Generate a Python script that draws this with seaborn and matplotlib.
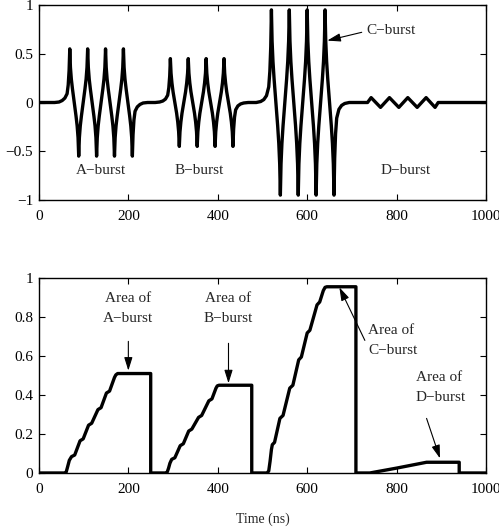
import matplotlib
matplotlib.use("Agg")
import numpy as np
import pandas as pd
import matplotlib.pyplot as plt
import seaborn as sns

# ---- top panel: received signal ----
burst_a_t = [0, 35, 45, 52, 58, 63, 65.5, 67.5, 69,
             70.5, 72.5, 75, 79, 83, 85.5, 87.5, 89,
             90.5, 92.5, 95, 99, 103, 105.5, 107.5, 109,
             110.5, 112.5, 115, 119, 123, 125.5, 127.5, 129,
             130.5, 132.5, 135, 139, 143, 145.5, 147.5, 149,
             150.5, 152.5, 155, 159, 163, 165.5, 167.5, 169,
             170.5, 172.5, 175, 179, 183, 185.5, 187.5, 189,
             190.5, 192.5, 195, 199, 203, 205.5, 207.5, 209,
             210.5, 212.5, 215, 220, 226, 233, 243]
burst_a_v = [0, 0, 0.005, 0.02, 0.045, 0.09, 0.18, 0.33, 0.55,
             0.36, 0.24, 0.14, 0, -0.14, -0.24, -0.36, -0.55,
             -0.36, -0.24, -0.14, 0, 0.14, 0.24, 0.36, 0.55,
             0.36, 0.24, 0.14, 0, -0.14, -0.24, -0.36, -0.55,
             -0.36, -0.24, -0.14, 0, 0.14, 0.24, 0.36, 0.55,
             0.36, 0.24, 0.14, 0, -0.14, -0.24, -0.36, -0.55,
             -0.36, -0.24, -0.14, 0, 0.14, 0.24, 0.36, 0.55,
             0.36, 0.24, 0.14, 0, -0.14, -0.24, -0.36, -0.55,
             -0.33, -0.18, -0.09, -0.045, -0.02, -0.005, 0]

burst_b_t = [243, 260, 270, 277, 283, 288, 290.5, 292.5, 294,
             295.5, 297.5, 300, 304, 308, 310.5, 312.5, 314,
             315.5, 317.5, 320, 324, 328, 330.5, 332.5, 334,
             335.5, 337.5, 340, 344, 348, 350.5, 352.5, 354,
             355.5, 357.5, 360, 364, 368, 370.5, 372.5, 374,
             375.5, 377.5, 380, 384, 388, 390.5, 392.5, 394,
             395.5, 397.5, 400, 404, 408, 410.5, 412.5, 414,
             415.5, 417.5, 420, 424, 428, 430.5, 432.5, 434,
             435.5, 437.5, 440, 445, 451, 458, 468]
burst_b_v = [0, 0, 0.005, 0.015, 0.035, 0.075, 0.15, 0.27, 0.45,
             0.30, 0.20, 0.11, 0, -0.11, -0.20, -0.30, -0.45,
             -0.30, -0.20, -0.11, 0, 0.11, 0.20, 0.30, 0.45,
             0.30, 0.20, 0.11, 0, -0.11, -0.20, -0.30, -0.45,
             -0.30, -0.20, -0.11, 0, 0.11, 0.20, 0.30, 0.45,
             0.30, 0.20, 0.11, 0, -0.11, -0.20, -0.30, -0.45,
             -0.30, -0.20, -0.11, 0, 0.11, 0.20, 0.30, 0.45,
             0.30, 0.20, 0.11, 0, -0.11, -0.20, -0.30, -0.45,
             -0.27, -0.15, -0.075, -0.035, -0.015, -0.005, 0]

burst_c_t = [468, 486, 496, 503, 509, 514, 516.5, 518.5, 520,
             521.5, 523.5, 526, 530, 534, 536.5, 538.5, 540,
             541.5, 543.5, 546, 550, 554, 556.5, 558.5, 560,
             561.5, 563.5, 566, 570, 574, 576.5, 578.5, 580,
             581.5, 583.5, 586, 590, 594, 596.5, 598.5, 600,
             601.5, 603.5, 606, 610, 614, 616.5, 618.5, 620,
             621.5, 623.5, 626, 630, 634, 636.5, 638.5, 640,
             641.5, 643.5, 646, 650, 654, 656.5, 658.5, 660,
             661.5, 663.5, 666, 671, 677, 684, 694]
burst_c_v = [0, 0, 0.01, 0.03, 0.07, 0.16, 0.32, 0.57, 0.95,
             0.63, 0.42, 0.24, 0, -0.24, -0.42, -0.63, -0.95,
             -0.63, -0.42, -0.24, 0, 0.24, 0.42, 0.63, 0.95,
             0.63, 0.42, 0.24, 0, -0.24, -0.42, -0.63, -0.95,
             -0.63, -0.42, -0.24, 0, 0.24, 0.42, 0.63, 0.95,
             0.63, 0.42, 0.24, 0, -0.24, -0.42, -0.63, -0.95,
             -0.63, -0.42, -0.24, 0, 0.24, 0.42, 0.63, 0.95,
             0.63, 0.42, 0.24, 0, -0.24, -0.42, -0.63, -0.95,
             -0.57, -0.32, -0.16, -0.07, -0.03, -0.01, 0]

burst_d_t = [694, 735, 743, 764, 784, 805, 825, 846, 866, 886, 893, 1000]
burst_d_v = [0, 0, 0.05, -0.05, 0.05, -0.05, 0.05, -0.05, 0.05, -0.05, 0, 0]

# ---- bottom panel: running area of each burst ----
area_a_t = [0, 57, 61, 64, 68, 73, 80, 92, 99, 111, 118, 132, 139, 151, 158,
            169, 172, 176, 250, 250]
area_a_v = [0, 0, 0.005, 0.03, 0.065, 0.084, 0.092, 0.165, 0.175, 0.245, 0.255,
            0.325, 0.335, 0.41, 0.42, 0.49, 0.503, 0.51, 0.51, 0]

area_b_t = [250, 283, 287, 290, 293, 297, 304, 316, 323, 335, 342, 357, 364,
            380, 387, 396, 399, 403, 476, 476]
area_b_v = [0, 0, 0.005, 0.025, 0.05, 0.07, 0.078, 0.14, 0.15, 0.215, 0.225,
            0.285, 0.295, 0.37, 0.38, 0.435, 0.447, 0.45, 0.45, 0]

area_c_t = [476, 510, 514, 517, 520, 522, 527, 539, 546, 561, 568, 581, 587,
            600, 606, 622, 628, 636, 640, 644, 709, 709]
area_c_v = [0, 0, 0.01, 0.06, 0.12, 0.145, 0.157, 0.28, 0.295, 0.435, 0.45,
            0.58, 0.595, 0.718, 0.732, 0.862, 0.877, 0.935, 0.952, 0.955, 0.955, 0]

area_d_t = [709, 740, 800, 867, 940, 940, 1000]
area_d_v = [0, 0, 0.025, 0.055, 0.055, 0, 0]

sig = pd.DataFrame({
    "t": burst_a_t + burst_b_t + burst_c_t + burst_d_t,
    "v": burst_a_v + burst_b_v + burst_c_v + burst_d_v,
})
area = pd.DataFrame({
    "t": area_a_t + area_b_t + area_c_t + area_d_t,
    "v": area_a_v + area_b_v + area_c_v + area_d_v,
})

sns.set_theme(style="ticks")
plt.rcParams['font.family'] = ['Liberation Serif', 'DejaVu Serif']
plt.rcParams['axes.unicode_minus'] = True

fig = plt.figure(figsize=(4.99, 5.27), dpi=100)
ax1 = fig.add_axes([0.078, 0.6205, 0.896, 0.370])
ax2 = fig.add_axes([0.078, 0.1025, 0.896, 0.370])

sns.lineplot(data=sig, x="t", y="v", sort=False, estimator=None,
             color="black", linewidth=2.4, ax=ax1)
sns.lineplot(data=area, x="t", y="v", sort=False, estimator=None,
             color="black", linewidth=2.4, ax=ax2)

arrow = dict(arrowstyle="-|>,head_length=0.8,head_width=0.25",
             color="black", lw=0.8, shrinkA=0, shrinkB=0, mutation_scale=10)
fs = 11

# top panel
ax1.set_xlim(0, 1000)
ax1.set_ylim(-1, 1)
ax1.set_yticks([-1, -0.5, 0, 0.5, 1])
ax1.set_yticklabels(["\u22121", "\u22120.5", "0", "0.5", "1"])
ax1.text(139, -0.70, "A\u2212burst", ha="center", va="center", fontsize=fs)
ax1.text(358, -0.70, "B\u2212burst", ha="center", va="center", fontsize=fs)
ax1.text(821, -0.70, "D\u2212burst", ha="center", va="center", fontsize=fs)
ax1.text(733, 0.735, "C\u2212burst", ha="left", va="center", fontsize=fs)
ax1.annotate("", xy=(645, 0.635), xytext=(722, 0.72), arrowprops=arrow)

# bottom panel
ax2.set_xlim(0, 1000)
ax2.set_ylim(0, 1)
ax2.set_yticks([0, 0.2, 0.4, 0.6, 0.8, 1])
ax2.set_yticklabels(["0", "0.2", "0.4", "0.6", "0.8", "1"])
ls = 1.7
ax2.text(200, 0.843, "Area of\nA\u2212burst", ha="center", va="center",
         fontsize=fs, linespacing=ls)
ax2.annotate("", xy=(200, 0.525), xytext=(200, 0.675), arrowprops=arrow)
ax2.text(424, 0.843, "Area of\nB\u2212burst", ha="center", va="center",
         fontsize=fs, linespacing=ls)
ax2.annotate("", xy=(424, 0.46), xytext=(424, 0.665), arrowprops=arrow)
ax2.text(737, 0.678, "Area of\nC\u2212burst", ha="left", va="center",
         fontsize=fs, linespacing=ls)
ax2.annotate("", xy=(672, 0.952), xytext=(729, 0.68), arrowprops=arrow)
ax2.text(843, 0.436, "Area of\nD\u2212burst", ha="left", va="center",
         fontsize=fs, linespacing=ls)
ax2.annotate("", xy=(897, 0.075), xytext=(867, 0.28), arrowprops=arrow)
ax2.set_xlabel("Time (ns)", fontsize=fs - 1, labelpad=12)

for ax in (ax1, ax2):
    ax.set_xticks([0, 200, 400, 600, 800, 1000])
    ax.set_ylabel("")
    if ax is ax1:
        ax.set_xlabel("")
    ax.tick_params(direction="in", top=True, right=True, length=4,
                   width=0.8, labelsize=fs, pad=4, colors="black")
    ax.tick_params(axis="x", pad=7)
    for s in ax.spines.values():
        s.set_visible(True)
        s.set_linewidth(1.0)
        s.set_color("black")

fig.savefig("out.png", dpi=100)
